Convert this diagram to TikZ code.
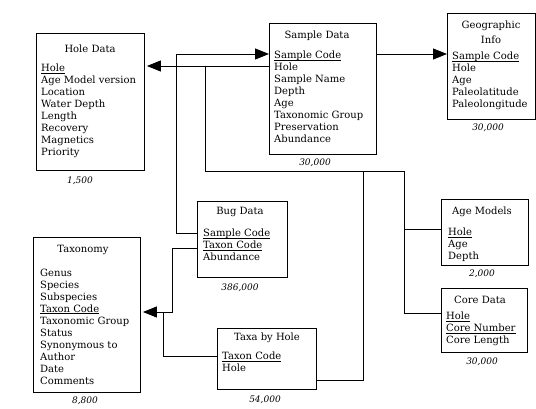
\documentclass[tikz,border=0pt]{standalone}
\usepackage{fontspec}
\setmainfont{DejaVu Serif}
\usetikzlibrary{arrows.meta}
\newcommand\keyfld[1]{\setbox0\hbox{#1}\rlap{\rule[-1.4pt]{\wd0}{0.6pt}}#1}
\tikzset{
  tbl/.style={draw, line width=0.9pt, rectangle, inner sep=0pt, anchor=north west},
  ttl/.style={inner sep=0pt, font=\fontsize{10}{15}\selectfont, align=center},
  flds/.style={inner sep=0pt, anchor=north west, align=left, font=\fontsize{10}{12}\selectfont},
  cnt/.style={inner sep=0pt, font=\fontsize{9}{11}\selectfont\itshape},
  wire/.style={line width=0.9pt},
  arr/.style={wire, -{Triangle[length=14pt,width=11pt]}}
}
\begin{document}
\begin{tikzpicture}[x=1pt,y=-1pt]
\useasboundingbox (0,0) rectangle (536,409);
% Hole Data
\node[tbl, minimum width=108pt, minimum height=137pt] (hole) at (36,33) {};
\node[ttl] (holeT) at (90,49) {Hole Data};
\node[flds] (holeF) at (41,64) {\keyfld{Hole}\\Age Model version\\Location\\Water Depth\\Length\\Recovery\\Magnetics\\Priority};
\node[cnt] (holeC) at (80,181) {1,500};
% Sample Data
\node[tbl, minimum width=107pt, minimum height=131pt] (samp) at (269,23) {};
\node[ttl] (sampT) at (317,36) {Sample Data};
\node[flds] (sampF) at (274,51) {\keyfld{Sample Code}\\Hole\\Sample Name\\Depth\\Age\\Taxonomic Group\\Preservation\\Abundance};
\node[cnt] (sampC) at (315,163) {30,000};
% Geographic Info
\node[tbl, minimum width=88pt, minimum height=106pt] (geo) at (447,13) {};
\node[ttl] (geoT) at (491,32) {Geographic\\Info};
\node[flds] (geoF) at (452,52) {\keyfld{Sample Code}\\Hole\\Age\\Paleolatitude\\Paleolongitude};
\node[cnt] (geoC) at (488,128) {30,000};
% Bug Data
\node[tbl, minimum width=90pt, minimum height=76pt] (bug) at (197,201) {};
\node[ttl] (bugT) at (240,212) {Bug Data};
\node[flds] (bugF) at (203,229) {\keyfld{Sample Code}\\\keyfld{Taxon Code}\\Abundance};
\node[cnt] (bugC) at (240,288) {386,000};
% Taxonomy
\node[tbl, minimum width=107pt, minimum height=155pt] (tax) at (33,237) {};
\node[ttl] (taxT) at (83,250) {Taxonomy};
\node[flds] (taxF) at (40,269) {Genus\\Species\\Subspecies\\\keyfld{Taxon Code}\\Taxonomic Group\\Status\\Synonymous to\\Author\\Date\\Comments};
\node[cnt] (taxC) at (85,401) {8,800};
% Taxa by Hole
\node[tbl, minimum width=99pt, minimum height=61pt] (tbh) at (217,328) {};
\node[ttl] (tbhT) at (267,338) {Taxa by Hole};
\node[flds] (tbhF) at (222,352) {\keyfld{Taxon Code}\\Hole};
\node[cnt] (tbhC) at (265,400) {54,000};
% Age Models
\node[tbl, minimum width=87pt, minimum height=66pt] (age) at (441,199) {};
\node[ttl] (ageT) at (482,212) {Age Models};
\node[flds] (ageF) at (448,228) {\keyfld{Hole}\\Age\\Depth};
\node[cnt] (ageC) at (482,274) {2,000};
% Core Data
\node[tbl, minimum width=86pt, minimum height=64pt] (core) at (441,288) {};
\node[ttl] (coreT) at (480,300) {Core Data};
\node[flds] (coreF) at (446,312) {\keyfld{Hole}\\\keyfld{Core Number}\\Core Length};
\node[cnt] (coreC) at (482,362) {30,000};
% junction coordinates
\coordinate (jA) at (205,66);
\coordinate (jB) at (205,171);
\coordinate (jC) at (363,171);
\coordinate (jD) at (404,171);
\coordinate (jE) at (404,229);
\coordinate (jF) at (404,313);
\coordinate (jG) at (363,380);
\coordinate (bS) at (176,233);
\coordinate (bT) at (172,248);
\coordinate (tJ) at (163,312);
% connectors
\draw[arr] (samp.west |- jA) -- ([xshift=2pt]hole.east |- jA);
\draw[wire] (jA) -- (jB) -- (jD) -- (jF) -- (core.west |- jF);
\draw[wire] (jE) -- (age.west |- jE);
\draw[wire] (jC) -- (jG) -- (tbh.east |- jG);
\draw[arr] (bug.west |- bS) -- (bS) -- (bS |- 0,54) -- (samp.west |- 0,54);
\draw[arr] (samp.east |- 0,54) -- (geo.west |- 0,54);
\draw[arr] (bug.west |- bT) -- (bT) -- (bT |- tJ) -- ([xshift=2pt]tax.east |- tJ);
\draw[wire] (tbh.west |- 0,356) -- (tJ |- 0,356) -- (tJ);
\end{tikzpicture}
\end{document}
